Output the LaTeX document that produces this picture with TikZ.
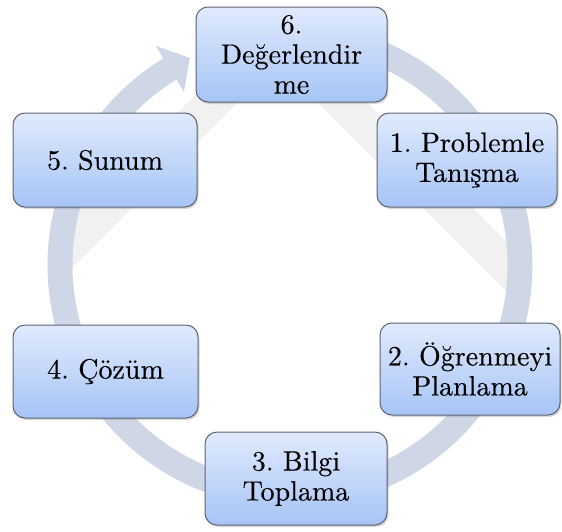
\documentclass[tikz,border=0pt]{standalone}
\usepackage{fontspec}
\newfontfamily\stagefont{lmroman10-regular}[Extension=.otf, FakeBold=0.3]
\usetikzlibrary{calc,shadows}
\definecolor{ringfill}{RGB}{207,215,231}
\definecolor{boxtop}{RGB}{224,234,253}
\definecolor{boxbottom}{RGB}{166,196,246}
\definecolor{boxline}{RGB}{92,100,112}
\definecolor{faintmark}{RGB}{241,241,241}
\tikzset{
  stage/.style={draw=boxline, line width=1pt, rounded corners=12pt,
    top color=boxtop, bottom color=boxbottom, align=center, inner sep=0pt,
    font=\stagefont\frenchspacing\fontsize{28}{30}\selectfont,
    drop shadow={opacity=0.3, shadow xshift=1.5pt, shadow yshift=-2pt}},
  cycleband/.style={draw=ringfill, line width=25pt},
}
\begin{document}
\begin{tikzpicture}[x=1pt,y=1pt]
\useasboundingbox (0,0) rectangle (562,-531);
\coordinate (C) at (290,-265);
% faint chevron in the background
\begin{scope}
  \clip (C) circle[radius=218];
  \fill[faintmark] (40,-250) -- (277.5,-12.5) -- (530,-265) -- (530,-315)
    -- (277.5,-62.5) -- (40,-300) -- cycle;
\end{scope}
% circular arrow behind the stages
\draw[cycleband] ($(C)+(85:230)$) arc[start angle=85, end angle=-238.5, radius=230];
\fill[ringfill] ($(C)+(121.5:203)$) -- ($(C)+(115.8:230)$) -- ($(C)+(121.5:257)$) -- cycle;
% stages
\node[stage, minimum width=191, minimum height=95] (s6) at (291.5,-54.5) {6.\\Değerlendir\\me};
\node[stage, minimum width=180, minimum height=94] (s1) at (467,-160) {1. Problemle\\Tanışma};
\node[stage, minimum width=180, minimum height=92] (s2) at (470,-369) {2. Öğrenmeyi\\Planlama};
\node[stage, minimum width=182, minimum height=93] (s3) at (296,-478.5) {3. Bilgi\\Toplama};
\node[stage, minimum width=185, minimum height=93] (s4) at (105.5,-371.5) {4. Çözüm};
\node[stage, minimum width=184, minimum height=94] (s5) at (105,-160) {5. Sunum};
\end{tikzpicture}
\end{document}
